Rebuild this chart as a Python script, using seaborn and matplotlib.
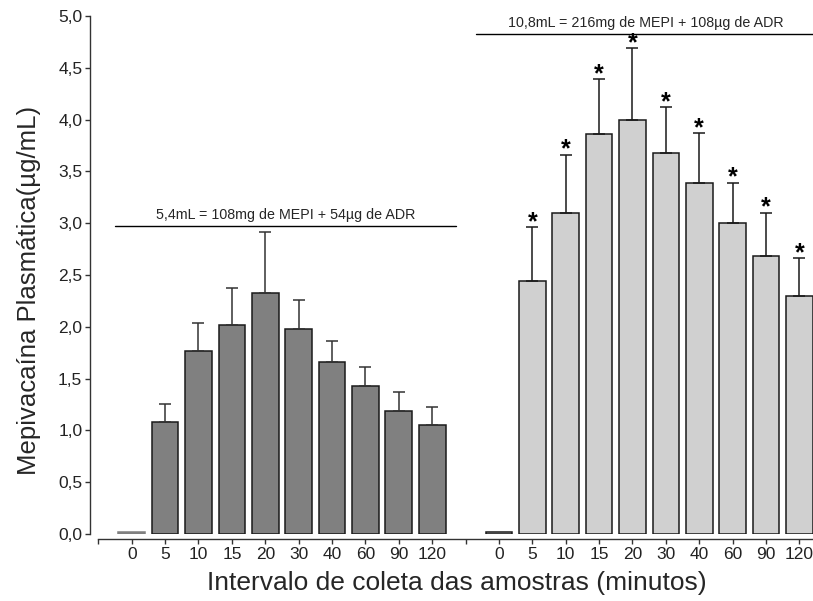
import numpy as np
import pandas as pd
import matplotlib
matplotlib.use("Agg")
import matplotlib.pyplot as plt
import seaborn as sns

# sampling times (minutes), same for both doses
times = ["0", "5", "10", "15", "20", "30", "40", "60", "90", "120"]

# 5,4 mL dose: mean and SEM (ug/mL)
low_mean = [0.02, 1.08, 1.77, 2.02, 2.33, 1.98, 1.66, 1.43, 1.19, 1.05]
low_sem = [0.0, 0.17, 0.27, 0.35, 0.58, 0.28, 0.20, 0.18, 0.18, 0.18]

# 10,8 mL dose: mean and SEM (ug/mL)
high_mean = [0.02, 2.44, 3.10, 3.86, 4.00, 3.68, 3.39, 3.00, 2.68, 2.30]
high_sem = [0.0, 0.52, 0.56, 0.53, 0.69, 0.44, 0.48, 0.39, 0.42, 0.36]
high_signif = [False, True, True, True, True, True, True, True, True, True]

low_label = "5,4mL = 108mg de MEPI + 54\u00b5g de ADR"
high_label = "10,8mL = 216mg de MEPI + 108\u00b5g de ADR"


def fmt_comma(v, _pos):
    return f"{v:.1f}".replace(".", ",")


def make_plot():
    sns.set_style("ticks")
    plt.rcParams["font.family"] = ["Liberation Sans", "DejaVu Sans"]

    n = len(times)
    pos_low = np.arange(n)
    pos_high = np.arange(n) + n + 1
    df = pd.DataFrame({
        "pos": np.concatenate([pos_low, pos_high]),
        "mean": low_mean + high_mean,
        "dose": ["low"] * n + ["high"] * n,
    })

    fig = plt.figure(figsize=(8.13, 6.01), dpi=100)
    ax = fig.add_axes([0.1107, 0.1115, 0.889, 0.862])

    sns.barplot(data=df, x="pos", y="mean", hue="dose", native_scale=True,
                dodge=False, width=0.8, errorbar=None, legend=False,
                palette={"low": "#808080", "high": "#d0d0d0"},
                edgecolor="#1a1a1a", linewidth=1.1, ax=ax)

    # zero-time bars look like flat lines
    for p in ax.patches:
        if p.get_height() < 0.05:
            if p.get_x() < n:
                p.set_edgecolor(p.get_facecolor())
            else:
                p.set_edgecolor("#1a1a1a")

    # upper error bars only
    ax.errorbar(pos_low[1:], low_mean[1:], yerr=[np.zeros(n - 1), low_sem[1:]],
                fmt="none", ecolor="#333333", elinewidth=1.1, capsize=4, capthick=1.1)
    ax.errorbar(pos_high[1:], high_mean[1:], yerr=[np.zeros(n - 1), high_sem[1:]],
                fmt="none", ecolor="#1a1a1a", elinewidth=1.1, capsize=4, capthick=1.1)

    for x, m, s, sig in zip(pos_high, high_mean, high_sem, high_signif):
        if sig:
            ax.annotate("*", (x, m + s), xytext=(0, -5), textcoords="offset points",
                        ha="center", va="bottom", fontsize=18, fontweight="bold",
                        color="black")

    # dose brackets
    ax.plot([-0.5, 9.7], [2.975, 2.975], color="black", lw=1.0)
    ax.text(4.6, 3.01, low_label, ha="center", va="bottom", fontsize=10.3)
    ax.plot([10.3, 20.5], [4.83, 4.83], color="black", lw=1.0)
    ax.text(15.4, 4.86, high_label, ha="center", va="bottom", fontsize=10.3)

    ax.set_xlim(-1.25, 20.4)
    ax.set_ylim(0, 5)
    ax.set_yticks(np.arange(0, 5.01, 0.5))
    ax.yaxis.set_major_formatter(plt.FuncFormatter(fmt_comma))

    ticks = [-1] + list(pos_low) + [n] + list(pos_high)
    ax.set_xticks(ticks)
    ax.set_xticklabels([""] + times + [""] + times)

    sns.despine(ax=ax)
    ax.spines["bottom"].set_position(("outward", 3.6))
    ax.spines["bottom"].set_bounds(-1, 20.4)
    for sp in ["left", "bottom"]:
        ax.spines[sp].set_linewidth(1.0)
        ax.spines[sp].set_color("#333333")
    ax.tick_params(axis="both", labelsize=12.5, length=3.5, width=1.0,
                   color="#333333", labelcolor="#222222", pad=2)

    ax.set_xlabel("Intervalo de coleta das amostras (minutos)", fontsize=19)
    ax.set_ylabel("Mepivaca\u00edna Plasm\u00e1tica(\u00b5g/mL)", fontsize=18.5)
    ax.yaxis.set_label_coords(-0.068, 0.47)
    ax.xaxis.set_label_coords(0.508, -0.072)

    fig.savefig("out.png", dpi=100)


if __name__ == "__main__":
    make_plot()
